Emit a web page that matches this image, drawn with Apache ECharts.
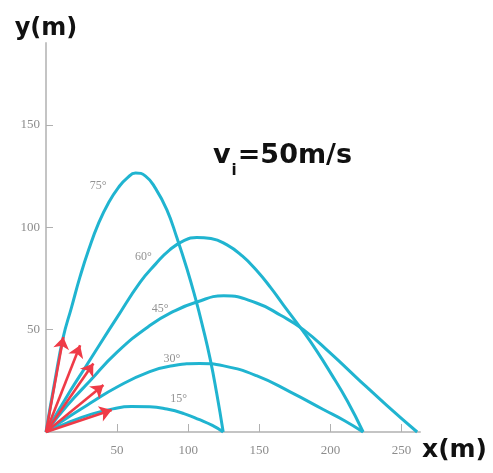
<!DOCTYPE html>
<html>
<head>
<meta charset="utf-8">
<script src="https://cdn.jsdelivr.net/npm/echarts@6/dist/echarts.min.js"></script>
<style>
  html, body { margin: 0; padding: 0; background: #fff; }
  #chart { width: 493px; height: 473px; }
</style>
</head>
<body>
<div id="chart"></div>
<script>
// ---- data ----
const xTickLabels = [50, 100, 150, 200, 250];
const yTickLabels = [50, 100, 150];

const traj75 = [[0,0],[6,24],[12,46],[18,61],[24,76],[30,89],[37,102],[44,112],[51,119.5],[57,124],[63,126.5],[70,125],[77,119],[85,108.5],[92,95],[99,80],[105,65.5],[110,52],[115.5,35.5],[120,19],[124.6,0]];
const traj60 = [[0,0],[17,20],[28,32],[38,43],[50,56],[66,73],[77,82],[87,89],[97,93.5],[106,95],[116,94.5],[127,91.5],[138,86],[148,79],[158,70.5],[167,62],[181,49],[190,40],[200,29],[212,15],[223,0]];
const traj45 = [[0,0],[15,13],[31,25],[50,39],[73,52],[90,59],[106,63.5],[125,66.5],[148,63],[165,57],[181,50],[200,38.5],[220,25.5],[240,12.8],[261,0]];
const traj30 = [[0,0],[15,7],[31,14],[50,22],[73,29.5],[90,32.5],[108,33.5],[125,32.3],[148,27.5],[172,19.5],[195,11],[210,5.5],[223,0]];
const traj15 = [[0,0],[15,4.5],[31,8.5],[47,11.3],[60,12.4],[73,12.3],[85,11.2],[97,9],[108,6],[117,3.2],[124.6,0]];

const arrowTips = [[12.2,46.4],[24,42.4],[33.3,33.5],[40.4,22.9],[46.2,10.7]];

const angleLabels = ['75°', '60°', '45°', '30°', '15°'];
const angleLabelPos = [[36.6,120.3],[68.5,85.4],[80.3,60.2],[88.5,35.9],[93.2,16.4]];

// ---- chart ----
const chart = echarts.init(document.getElementById('chart'), null, { renderer: 'canvas' });

const curveColor = '#20b4d0';
const arrowColor = '#ef3b47';

function curve(name, data) {
  return {
    name: name,
    type: 'line',
    data: data,
    smooth: 0.5,
    showSymbol: false,
    symbol: 'none',
    clip: false,
    z: 2,
    lineStyle: { color: curveColor, width: 3 }
  };
}

const option = {
  animation: false,
  backgroundColor: '#ffffff',
  title: {
    text: '{a|v}{b|i}{a|=50m/s}',
    left: 208,
    top: 132,
    textStyle: {
      rich: {
        a: { fontFamily: 'DejaVu Sans', fontWeight: 'bold', fontSize: 27, color: '#111', lineHeight: 32, verticalAlign: 'bottom' },
        b: { fontFamily: 'DejaVu Sans', fontWeight: 'bold', fontSize: 15, color: '#111', lineHeight: 32, verticalAlign: 'bottom', padding: [0, 1, -10, 1] }
      }
    }
  },
  grid: { left: 46, right: 73, top: 43, bottom: 41, containLabel: false },
  xAxis: {
    type: 'value',
    min: 0, max: 263, interval: 50,
    name: 'x(m)',
    nameLocation: 'end',
    nameGap: 2,
    nameTextStyle: {
      fontFamily: 'DejaVu Sans', fontWeight: 'bold', fontSize: 25, color: '#111',
      align: 'left', verticalAlign: 'top', padding: [6, 0, 0, 0]
    },
    axisLine: { show: true, lineStyle: { color: '#c4c4c4', width: 2 } },
    axisTick: { show: true, inside: true, length: 8, customValues: xTickLabels, lineStyle: { color: '#b0b0b0', width: 1 } },
    axisLabel: { show: true, customValues: xTickLabels, margin: 12, fontFamily: 'Liberation Serif', fontSize: 13, color: '#8c8c8c' },
    splitLine: { show: false }
  },
  yAxis: {
    type: 'value',
    min: 0, max: 190, interval: 50,
    name: 'y(m)',
    nameLocation: 'end',
    nameGap: 2,
    nameTextStyle: {
      fontFamily: 'DejaVu Sans', fontWeight: 'bold', fontSize: 24, color: '#111',
      align: 'center', verticalAlign: 'bottom'
    },
    axisLine: { show: true, lineStyle: { color: '#c4c4c4', width: 2 } },
    axisTick: { show: true, inside: true, length: 7, customValues: yTickLabels, lineStyle: { color: '#b0b0b0', width: 1 } },
    axisLabel: { show: true, customValues: yTickLabels, margin: 6, fontFamily: 'Liberation Serif', fontSize: 13, color: '#8c8c8c' },
    splitLine: { show: false }
  },
  series: [
    curve('75°', traj75),
    curve('60°', traj60),
    curve('45°', traj45),
    curve('30°', traj30),
    curve('15°', traj15),
    {
      name: 'arrows',
      type: 'lines',
      coordinateSystem: 'cartesian2d',
      z: 5,
      symbol: ['none', 'arrow'],
      symbolSize: [10, 12],
      lineStyle: { color: arrowColor, width: 2.6, opacity: 1, curveness: 0 },
      data: arrowTips.map(t => ({ coords: [[0, 0], t] }))
    },
    {
      name: 'angles',
      type: 'scatter',
      symbolSize: 0,
      z: 6,
      data: angleLabelPos.map((p, i) => ({ value: [p[0], p[1]], name: angleLabels[i] })),
      label: {
        show: true,
        position: 'inside',
        formatter: '{b}',
        fontFamily: 'Liberation Serif',
        fontSize: 12,
        color: '#777'
      }
    }
  ]
};

chart.setOption(option);
</script>
</body>
</html>
